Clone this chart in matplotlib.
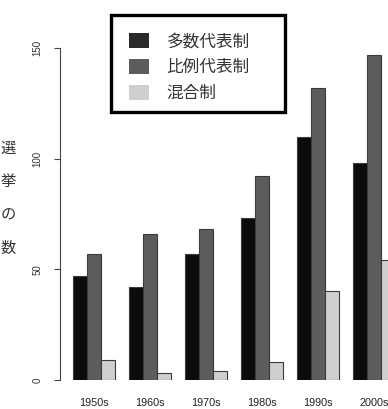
import matplotlib
matplotlib.use("Agg")
import matplotlib.pyplot as plt
from matplotlib.patches import Rectangle
import numpy as np

decades = ["1950s", "1960s", "1970s", "1980s", "1990s", "2000s"]
majoritarian = [47, 42, 57, 73, 110, 98]
proportional = [57, 66, 68, 92, 132, 147]
mixed = [9, 3, 4, 8, 40, 54]
series_names = ["多数代表制", "比例代表制", "混合制"]
colors = ["#0b0b0b", "#5c5c5c", "#cfcfcf"]
ylabel_chars = ["選", "挙", "の", "数"]
yticks = [0, 50, 100, 150]

jp = ["Noto Sans CJK JP", "DejaVu Sans"]
W, H = 388, 409

fig = plt.figure(figsize=(W / 100, H / 100), dpi=100)
ax = fig.add_axes([60 / W, 29 / H, 328 / W, 332 / H])

groups = np.arange(len(decades))
values = [majoritarian, proportional, mixed]
for s, vals in enumerate(values):
    ax.bar(1 + 4 * groups + s, vals, width=1.0, align="edge",
           color=colors[s], edgecolor="#3a3a3a", linewidth=0.8,
           label=series_names[s])

ax.set_xlim(0.07, 23.5)
ax.set_ylim(0, 150)
ax.set_yticks(yticks)
ax.set_yticklabels([str(t) for t in yticks], rotation=90, va="center",
                   family="Liberation Sans", fontsize=7, color="#333333")
ax.set_xticks(1 + 4 * groups + 1.5)
ax.set_xticklabels(decades, family="Liberation Sans", fontsize=7.8,
                   color="#222222")
ax.tick_params(axis="x", length=0, pad=13)
ax.tick_params(axis="y", length=4.5, width=0.8, color="#444444", pad=8)
for side in ["top", "right", "bottom"]:
    ax.spines[side].set_visible(False)
ax.spines["left"].set_color("#444444")
ax.spines["left"].set_linewidth(0.8)

for i, ch in enumerate(ylabel_chars):
    fig.text(8 / W, 1 - (148 + 33.5 * i) / H, ch, family=jp, fontsize=11,
             ha="center", va="center", color="#333333")

# legend frame drawn separately (R-style wide box)
fig.patches.append(Rectangle((111 / W, 1 - 112 / H), 174 / W, 97 / H,
                             transform=fig.transFigure, fill=False,
                             edgecolor="black", linewidth=2.4))
leg = ax.legend(loc="upper left", bbox_to_anchor=(129 / W, 1 - 33 / H),
                bbox_transform=fig.transFigure, prop={"family": jp, "size": 12},
                frameon=False, handlelength=1.2, handleheight=1.0,
                handletextpad=1.05, borderpad=0, labelspacing=0.53,
                borderaxespad=0)
for t in leg.get_texts():
    t.set_color("#333333")
for h in leg.legend_handles:
    h.set_edgecolor("none")
leg.legend_handles[0].set_facecolor("#2a2a2a")

fig.savefig("out.png", dpi=100)
